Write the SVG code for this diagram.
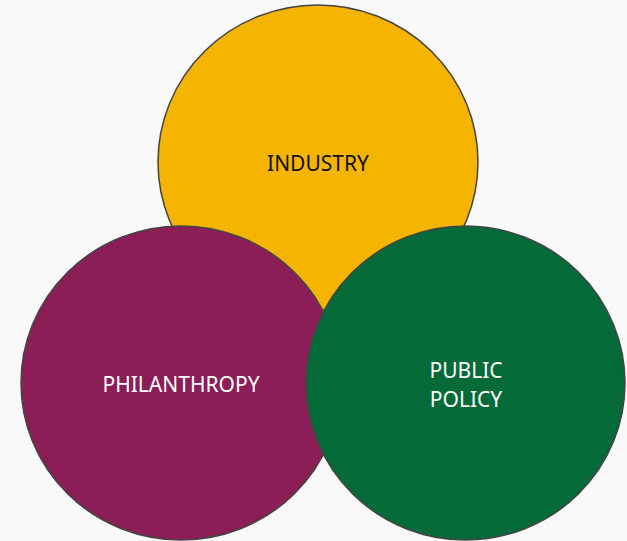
<svg xmlns="http://www.w3.org/2000/svg" width="627" height="541" viewBox="0 0 627 541">
<style>
.c{stroke:#444;stroke-width:1.5}
.t{font-family:"Noto Sans","Open Sans",sans-serif;font-size:21px;text-anchor:middle}
</style>
<rect width="627" height="541" fill="#f9f9f9"/>
<g id="industry">
<ellipse class="c" cx="318" cy="162" rx="160" ry="157" fill="#f5b400"/>
<text class="t" x="318" y="171" fill="#111">INDUSTRY</text>
</g>
<g id="philanthropy">
<ellipse class="c" cx="181" cy="383" rx="160" ry="157" fill="#8b1e56"/>
<text class="t" x="181" y="392" fill="#fff">PHILANTHROPY</text>
</g>
<g id="public-policy">
<ellipse class="c" cx="465.5" cy="383" rx="159.5" ry="157" fill="#046a38"/>
<text class="t" x="466" y="378" fill="#fff">PUBLIC</text>
<text class="t" x="466" y="407" fill="#fff">POLICY</text>
</g>
<g id="connectors"/>
</svg>
